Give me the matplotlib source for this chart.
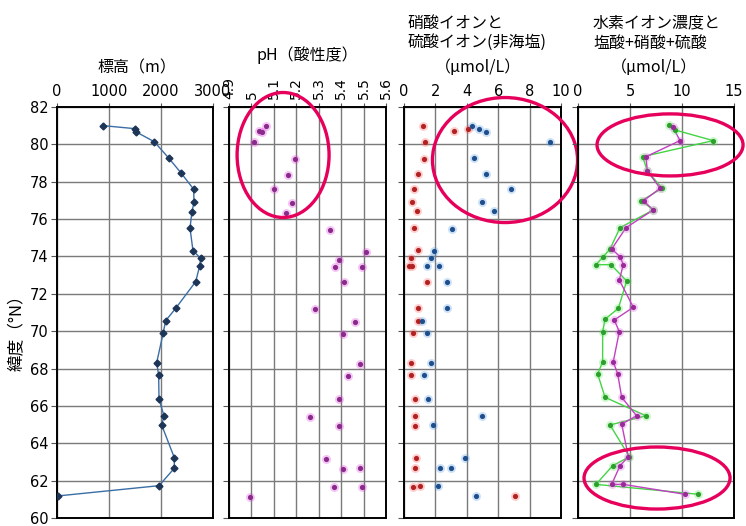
import numpy as np
import matplotlib
matplotlib.use('Agg')
from matplotlib import pyplot as plt
from matplotlib.patches import Ellipse

JP_FONT = ['Noto Sans CJK JP', 'DejaVu Sans']
plt.rcParams['font.family'] = ['DejaVu Sans', 'Noto Sans CJK JP']

# elevation along the route (m)
lat_elev = [81.0, 80.84, 80.68, 80.14, 79.25, 78.45, 77.6, 76.9, 76.4, 75.52, 74.31, 73.9, 73.49,
            72.65, 71.22, 70.56, 69.92, 68.31, 67.65, 66.37, 65.46, 64.98, 63.23, 62.66, 61.73, 61.18]
elev = [890, 1500, 1513, 1871, 2154, 2391, 2628, 2635, 2596, 2558, 2615, 2763, 2744,
        2667, 2282, 2090, 2044, 1917, 1955, 1962, 2058, 2013, 2256, 2256, 1962, 13]

# pH of snow samples
lat_ph = [80.98, 80.73, 80.64, 80.11, 79.2, 78.36, 77.59, 76.84, 76.34, 75.43, 74.24, 73.83, 73.45, 73.45,
          72.62, 71.17, 70.51, 69.85, 68.24, 67.58, 66.35, 65.39, 64.92, 63.16, 62.6, 62.67, 61.67, 61.64, 61.14]
ph = [5.064, 5.034, 5.046, 5.013, 5.193, 5.163, 5.102, 5.182, 5.153, 5.352, 5.509, 5.39, 5.373, 5.492,
      5.411, 5.283, 5.462, 5.41, 5.483, 5.43, 5.392, 5.261, 5.39, 5.331, 5.41, 5.483, 5.369, 5.492, 4.994]
ph_ticks = [4.9, 5.0, 5.1, 5.2, 5.3, 5.4, 5.5, 5.6]

# nitrate (red) and non-sea-salt sulfate (blue), umol/L
lat_no3 = [81.0, 80.7, 80.8, 80.14, 79.23, 78.41, 77.59, 76.91, 76.42, 75.52, 74.33, 73.93, 73.5, 73.5,
           72.65, 71.24, 70.56, 69.92, 68.31, 67.65, 66.37, 65.46, 64.94, 63.23, 62.69, 61.67, 61.73, 61.18]
no3 = [1.21, 3.2, 4.1, 1.34, 1.27, 0.87, 0.62, 0.49, 0.81, 0.66, 0.87, 0.43, 0.34, 0.53,
       1.44, 0.91, 0.87, 0.59, 0.45, 0.45, 0.7, 0.7, 0.7, 0.74, 0.7, 0.59, 1.02, 7.07]
lat_so4 = [81.0, 80.84, 80.68, 80.14, 79.25, 78.41, 77.61, 76.91, 76.42, 75.49, 74.31, 73.92, 73.5, 73.5,
           72.65, 71.24, 70.56, 69.92, 68.31, 67.65, 66.37, 65.46, 64.98, 63.23, 62.69, 62.69, 61.73, 61.18]
so4 = [4.35, 4.78, 5.22, 9.28, 4.44, 5.22, 6.82, 4.99, 5.73, 3.06, 1.89, 1.72, 1.48, 2.23,
       2.76, 2.72, 1.17, 1.44, 1.72, 1.27, 1.51, 4.95, 1.83, 3.89, 2.29, 3.01, 2.15, 4.57]

# hydrogen ion (magenta) and HCl+HNO3+H2SO4 (green), umol/L
lat_h = [80.95, 80.2, 79.34, 78.57, 77.65, 76.98, 76.49, 75.54, 74.4, 73.99, 73.56, 72.74, 71.28,
         70.6, 69.97, 68.36, 67.71, 66.46, 65.47, 65.03, 63.28, 62.8, 61.8, 61.8, 61.27]
h_ion = [9.1, 9.81, 6.54, 6.67, 7.9, 6.3, 7.24, 4.62, 3.24, 4.04, 4.36, 3.97, 5.32,
         3.49, 3.97, 3.39, 3.82, 4.2, 5.64, 4.2, 4.84, 4.04, 3.24, 4.36, 10.29]
lat_acid = [81.04, 80.77, 80.2, 79.34, 78.57, 77.65, 76.98, 76.49, 75.54, 74.4, 73.95, 73.56, 73.56,
            72.69, 71.22, 70.64, 69.97, 68.36, 67.71, 66.46, 65.47, 64.98, 63.28, 62.8, 61.8, 61.27]
acid = [8.78, 9.33, 13.0, 6.22, 6.67, 8.1, 6.09, 7.24, 4.04, 3.08, 2.37, 1.73, 3.17,
        4.68, 3.88, 2.6, 2.37, 2.37, 1.89, 2.6, 6.54, 3.08, 4.94, 3.33, 1.73, 11.57]

RING = '#e6005c'
TICK_FS = 10.5
TITLE_FS = 11.5

fig = plt.figure(figsize=(7.46, 5.26), dpi=100)
bottom, height = 0.0152, 0.7814
axes = [fig.add_axes([0.0764, bottom, 0.2091, height]),
        fig.add_axes([0.3070, bottom, 0.2105, height]),
        fig.add_axes([0.5416, bottom, 0.2105, height]),
        fig.add_axes([0.7748, bottom, 0.2091, height])]

for ax in axes:
    ax.set_ylim(60, 82)
    ax.set_yticks(np.arange(60, 83, 2))
    ax.xaxis.tick_top()
    ax.tick_params(axis='x', length=3, pad=3, labelsize=TICK_FS, color='#555555')
    ax.tick_params(axis='y', length=4, pad=2, labelsize=TICK_FS, color='#555555')
    ax.grid(True, color='#7a7a7a', linewidth=1.0)
    ax.set_axisbelow(True)
    for s in ax.spines.values():
        s.set_linewidth(1.4)
    if ax is not axes[0]:
        ax.set_yticklabels([])


def dots(ax, x, y, core, halo):
    ax.scatter(x, y, s=42, color=halo, alpha=0.3, linewidths=0, zorder=3)
    ax.scatter(x, y, s=14, color=core, linewidths=0, zorder=4)


# elevation
ax = axes[0]
ax.set_xlim(0, 3000)
ax.set_xticks([0, 1000, 2000, 3000])
ax.plot(elev, lat_elev, color='#3a6ea5', linewidth=1.0, zorder=3)
ax.plot(elev, lat_elev, linestyle='none', marker='D', markersize=3.5, color='#1d3557', zorder=4)
ax.set_ylabel('緯度（°N）', family=JP_FONT, fontsize=12)
ax.yaxis.set_label_coords(-0.2, 0.46)
ax.text(0.51, 1.095, '標高（m）', transform=ax.transAxes, ha='center', va='center',
        family=JP_FONT, fontsize=TITLE_FS)

# pH
ax = axes[1]
ax.set_xlim(4.9, 5.6)
ax.set_xticks(ph_ticks)
ax.set_xticklabels(['%g' % t for t in ph_ticks], rotation=90, fontsize=10)
dots(ax, ph, lat_ph, '#8a2a8a', '#e040e0')
ax.text(0.5, 1.127, 'pH（酸性度）', transform=ax.transAxes, ha='center', va='center',
        family=JP_FONT, fontsize=TITLE_FS)
ax.add_patch(Ellipse((5.141, 79.43), 0.41, 6.69, fill=False, edgecolor=RING,
                     linewidth=2.4, clip_on=False, zorder=6))

# nitrate / sulfate
ax = axes[2]
ax.set_xlim(0, 10)
ax.set_xticks([0, 2, 4, 6, 8, 10])
dots(ax, no3, lat_no3, '#b22222', '#ff6060')
dots(ax, so4, lat_so4, '#1f4e8c', '#5aa0e6')
ax.text(0.02, 1.18, '硝酸イオンと\n硫酸イオン(非海塩)', transform=ax.transAxes, ha='left', va='center',
        family=JP_FONT, fontsize=TITLE_FS, linespacing=1.2)
ax.text(0.47, 1.097, '（μmol/L）', transform=ax.transAxes, ha='center', va='center',
        family=JP_FONT, fontsize=TITLE_FS)
ax.add_patch(Ellipse((6.43, 79.16), 9.24, 6.69, fill=False, edgecolor=RING,
                     linewidth=2.4, clip_on=False, zorder=6))

# hydrogen ion vs acids
ax = axes[3]
ax.set_xlim(0, 15)
ax.set_xticks([0, 5, 10, 15])
ax.plot(acid, lat_acid, color='#44d444', linewidth=1.0, zorder=3)
ax.plot(h_ion, lat_h, color='#c040c0', linewidth=1.0, zorder=3)
dots(ax, acid, lat_acid, '#2e9e2e', '#55ee55')
dots(ax, h_ion, lat_h, '#9a2a9a', '#e060e0')
ax.text(0.096, 1.18, '水素イオン濃度と\n塩酸+硝酸+硫酸', transform=ax.transAxes, ha='left', va='center',
        family=JP_FONT, fontsize=TITLE_FS, linespacing=1.2)
ax.text(0.49, 1.097, '（μmol/L）', transform=ax.transAxes, ha='center', va='center',
        family=JP_FONT, fontsize=TITLE_FS)
ax.add_patch(Ellipse((8.85, 79.97), 14.04, 3.32, fill=False, edgecolor=RING,
                     linewidth=2.4, clip_on=False, zorder=6))
ax.add_patch(Ellipse((7.6, 62.14), 14.04, 3.32, fill=False, edgecolor=RING,
                     linewidth=2.4, clip_on=False, zorder=6))

fig.savefig('out.png', dpi=100)
